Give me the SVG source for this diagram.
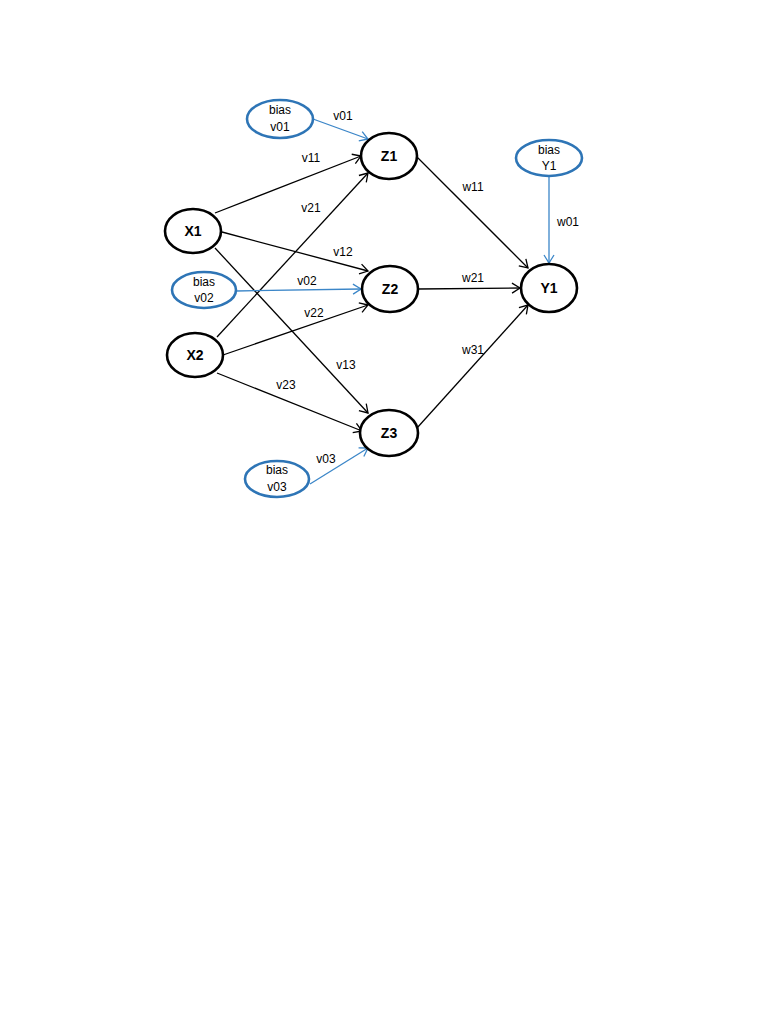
<svg xmlns="http://www.w3.org/2000/svg" width="768" height="1024" viewBox="0 0 768 1024">
<style>
.node{fill:#fff;stroke:#000;stroke-width:2.6}
.bias{fill:#fff;stroke:#2e75b6;stroke-width:2.6}
.e{stroke:#000;stroke-width:1.3;fill:none;marker-end:url(#ab)}
.b{stroke:#3b86c8;stroke-width:1.3;fill:none;marker-end:url(#abl)}
.nt{font-family:"Liberation Sans",Arial,sans-serif;font-size:14px;font-weight:bold;text-anchor:middle;fill:#000}
.bt{font-family:"Liberation Sans",Arial,sans-serif;font-size:12px;text-anchor:middle;fill:#000}
.lt{font-family:"Liberation Sans",Arial,sans-serif;font-size:12px;text-anchor:middle;fill:#000}
</style>
<defs>
<marker id="ab" markerWidth="12" markerHeight="12" refX="10" refY="6" orient="auto" markerUnits="userSpaceOnUse">
<path d="M2,1 L10,6 L2,11" fill="none" stroke="#000" stroke-width="1.3"/>
</marker>
<marker id="abl" markerWidth="12" markerHeight="12" refX="10" refY="6" orient="auto" markerUnits="userSpaceOnUse">
<path d="M2,1 L10,6 L2,11" fill="none" stroke="#3b86c8" stroke-width="1.3"/>
</marker>
</defs>
<rect width="768" height="1024" fill="#fff"/>
<g id="connectors">
<line class="e" x1="215" y1="213" x2="361" y2="156"/>
<line class="e" x1="217" y1="337" x2="368" y2="173"/>
<line class="e" x1="222" y1="232" x2="368" y2="271"/>
<line class="e" x1="215" y1="248" x2="368" y2="413"/>
<line class="e" x1="223" y1="355" x2="368" y2="305"/>
<line class="e" x1="217" y1="373" x2="362" y2="431"/>
<line class="b" x1="313" y1="119" x2="368" y2="139"/>
<line class="b" x1="236" y1="291" x2="361" y2="289"/>
<line class="b" x1="310" y1="484" x2="368" y2="448"/>
<line class="e" x1="417" y1="157" x2="528" y2="268"/>
<line class="e" x1="418" y1="289" x2="520" y2="288"/>
<line class="e" x1="417" y1="428" x2="528" y2="305"/>
<line class="b" x1="549" y1="176" x2="549" y2="263"/>
<text class="lt" x="343" y="120">v01</text>
<text class="lt" x="311" y="162">v11</text>
<text class="lt" x="311" y="212">v21</text>
<text class="lt" x="343" y="256">v12</text>
<text class="lt" x="307" y="285">v02</text>
<text class="lt" x="314" y="317">v22</text>
<text class="lt" x="346" y="369">v13</text>
<text class="lt" x="286" y="389">v23</text>
<text class="lt" x="326" y="463">v03</text>
<text class="lt" x="473" y="191">w11</text>
<text class="lt" x="473" y="282">w21</text>
<text class="lt" x="473" y="354">w31</text>
<text class="lt" x="568" y="226">w01</text>
</g>
<g id="X1"><ellipse class="node" cx="193" cy="231" rx="28" ry="22"/><text class="nt" x="193" y="236">X1</text></g>
<g id="X2"><ellipse class="node" cx="195" cy="355" rx="28" ry="22"/><text class="nt" x="195" y="360">X2</text></g>
<g id="Z1"><ellipse class="node" cx="389" cy="156" rx="28" ry="23"/><text class="nt" x="389" y="161">Z1</text></g>
<g id="Z2"><ellipse class="node" cx="390" cy="289" rx="28" ry="23"/><text class="nt" x="390" y="294">Z2</text></g>
<g id="Z3"><ellipse class="node" cx="389" cy="433" rx="29" ry="23"/><text class="nt" x="389" y="438">Z3</text></g>
<g id="Y1"><ellipse class="node" cx="549" cy="288" rx="28" ry="24"/><text class="nt" x="549" y="293">Y1</text></g>
<g id="bias_v01"><ellipse class="bias" cx="280" cy="119" rx="33" ry="19"/><text class="bt" x="280" y="114">bias</text><text class="bt" x="280" y="131">v01</text></g>
<g id="bias_v02"><ellipse class="bias" cx="204" cy="290" rx="32" ry="18"/><text class="bt" x="204" y="286">bias</text><text class="bt" x="204" y="302">v02</text></g>
<g id="bias_v03"><ellipse class="bias" cx="277" cy="479" rx="32" ry="18"/><text class="bt" x="277" y="474">bias</text><text class="bt" x="277" y="491">v03</text></g>
<g id="bias_Y1"><ellipse class="bias" cx="549" cy="158" rx="33" ry="18"/><text class="bt" x="549" y="154">bias</text><text class="bt" x="549" y="170">Y1</text></g>
</svg>
